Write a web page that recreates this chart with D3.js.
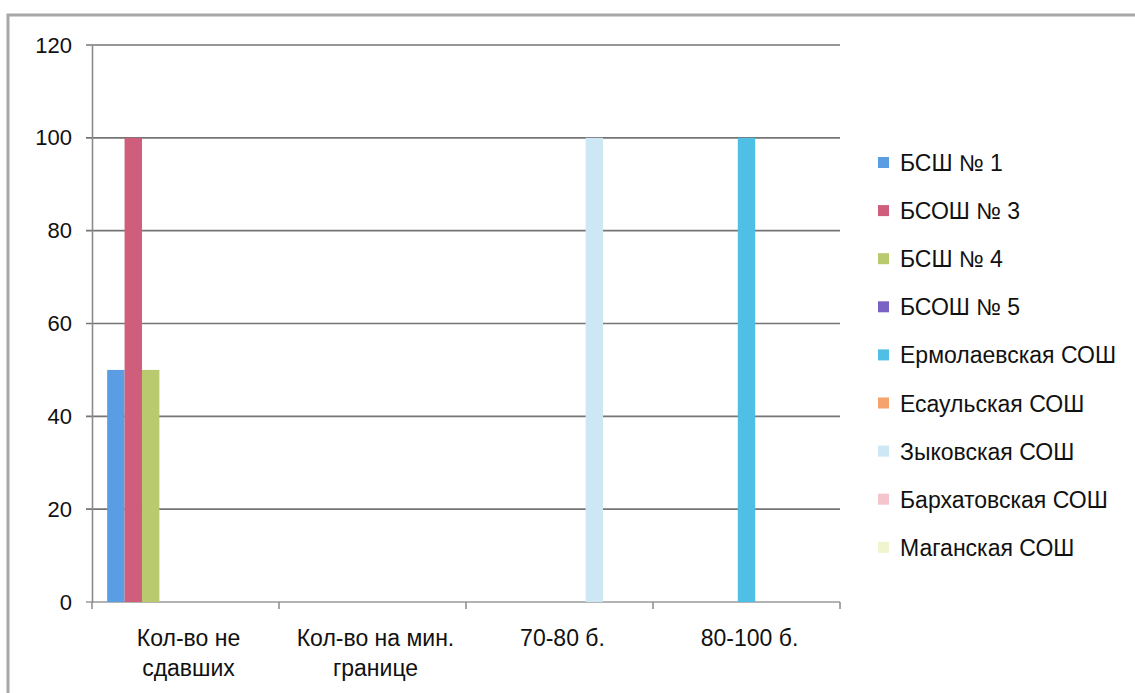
<!DOCTYPE html>
<html><head><meta charset="utf-8">
<script src="https://cdn.jsdelivr.net/npm/d3@7"></script>
<style>
html,body{margin:0;padding:0;background:#fff;}
text{font-family:"Liberation Sans",Arial,sans-serif;fill:#111;}
</style></head>
<body>
<svg id="chart" width="1135" height="693"></svg>
<script>
const categories = [["Кол-во не","сдавших"],["Кол-во на мин.","границе"],["70-80 б."],["80-100 б."]];
const seriesNames = ["БСШ № 1","БСОШ № 3","БСШ № 4","БСОШ № 5","Ермолаевская СОШ","Есаульская СОШ","Зыковская СОШ","Бархатовская СОШ","Маганская СОШ"];
const seriesColors = ["#5b9de3","#cf5d7c","#b9c96e","#7a62c4","#4fbfe6","#f5a26c","#cde7f4","#f5c5cd","#f1f5cf"];
// values[series][category]
const values = [
  [50,0,0,0],
  [100,0,0,0],
  [50,0,0,0],
  [0,0,0,0],
  [0,0,0,100],
  [0,0,0,0],
  [0,0,100,0],
  [0,0,0,0],
  [0,0,0,0]
];
const yTicks = [0,20,40,60,80,100,120];

const svg = d3.select("#chart");
const pLeft = 92, pRight = 840, pTop = 45, pBottom = 602;

// outer frame
svg.append("path").attr("d","M8,693 L8,15 L1135,15").attr("fill","none").attr("stroke","#a8a8a8").attr("stroke-width",3);

const y = d3.scaleLinear().domain([0,120]).range([pBottom, pTop]);
const x0 = d3.scaleBand().domain(d3.range(categories.length)).range([pLeft, pRight]).paddingInner(0).paddingOuter(0);
const x1 = d3.scaleBand().domain(d3.range(seriesNames.length)).range([0, x0.bandwidth()]).paddingOuter(0.87).paddingInner(0);

// gridlines
svg.append("g").selectAll("line").data(yTicks).join("line")
  .attr("x1", pLeft-6).attr("x2", pRight).attr("y1", d=>y(d)).attr("y2", d=>y(d))
  .attr("stroke", d=> d===0 ? "#9a9a9a" : "#757575").attr("stroke-width", 1.7);

// y axis
const yAxis = d3.axisLeft(y).tickValues(yTicks).tickSize(0).tickPadding(20);
const gy = svg.append("g").attr("transform",`translate(${pLeft},0)`).call(yAxis);
gy.select(".domain").attr("stroke","#8a8a8a").attr("stroke-width",1.6);
gy.selectAll("text").attr("font-size",22).attr("fill","#111").style("font-family","Liberation Sans, Arial, sans-serif");

// x axis ticks at category boundaries
const bounds = d3.range(categories.length+1).map(i => i<categories.length ? x0(i) : pRight);
svg.append("g").selectAll("line").data(bounds).join("line")
  .attr("x1", d=>d).attr("x2", d=>d).attr("y1", pBottom).attr("y2", pBottom+7)
  .attr("stroke","#8a8a8a").attr("stroke-width",1.5);

// bars
const g = svg.append("g");
seriesNames.forEach((name, si) => {
  g.selectAll(null).data(values[si]).join("rect")
    .attr("x", (d,ci) => x0(ci) + x1(si))
    .attr("width", x1.bandwidth())
    .attr("y", d => y(d))
    .attr("height", d => y(0) - y(d))
    .attr("fill", seriesColors[si]);
});

// category labels
const cl = svg.append("g");
categories.forEach((lines, ci) => {
  const cx = x0(ci) + x0.bandwidth()/2 + 3;
  const t = cl.append("text").attr("text-anchor","middle").attr("font-size",23)
    .attr("x", cx).attr("y", 646);
  lines.forEach((ln, li) => {
    t.append("tspan").attr("x", cx).attr("dy", li===0 ? 0 : 30).text(ln);
  });
});

// legend
const lg = svg.append("g").attr("transform","translate(878,163)");
const row = lg.selectAll("g").data(seriesNames).join("g")
  .attr("transform",(d,i)=>`translate(0,${i*48.1})`);
row.append("rect").attr("x",0).attr("y",-6).attr("width",11).attr("height",11)
  .attr("fill",(d,i)=>seriesColors[i]);
row.append("text").attr("x",22).attr("y",8).attr("font-size",23).text(d=>d);
</script>
</body></html>
